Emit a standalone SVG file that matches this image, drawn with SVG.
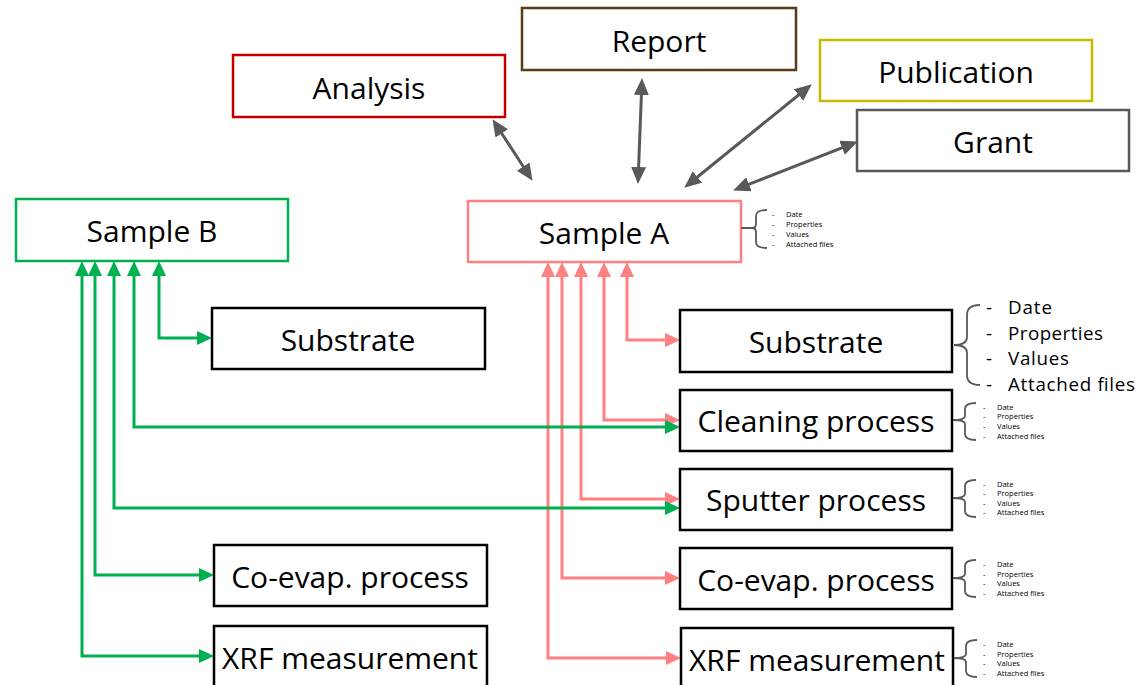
<svg xmlns="http://www.w3.org/2000/svg" width="1140" height="685" viewBox="0 0 1140 685">
<style>
.box{fill:#fff;stroke-width:2.5}
.lbl{font-family:"Open Sans","Noto Sans",sans-serif;font-size:30px;fill:#000;text-anchor:middle}
.gray{fill:none;stroke:#595959;stroke-width:3}
.pink{fill:none;stroke:#ff8080;stroke-width:3}
.green{fill:none;stroke:#00b050;stroke-width:3}
.brace{fill:none;stroke:#595959;stroke-width:1.8}
.sm{font-family:"Open Sans","Noto Sans",sans-serif;font-size:7.5px;fill:#000}
.lg{font-family:"Open Sans","Noto Sans",sans-serif;font-size:18.8px;fill:#000}
</style>
<defs>
<marker id="ag" markerUnits="userSpaceOnUse" markerWidth="17" markerHeight="16" refX="8" refY="7.5" orient="auto-start-reverse"><path d="M0,0 L17,7.5 L0,15 z" fill="#595959"/></marker>
<marker id="ap" markerUnits="userSpaceOnUse" markerWidth="16" markerHeight="15" refX="7" refY="7" orient="auto-start-reverse"><path d="M0,0 L15,7 L0,14 z" fill="#ff8080"/></marker>
<marker id="an" markerUnits="userSpaceOnUse" markerWidth="16" markerHeight="15" refX="7" refY="7" orient="auto-start-reverse"><path d="M0,0 L15,7 L0,14 z" fill="#00b050"/></marker>
</defs>

<g id="connectors">
<path class="gray" d="M497.4,126.7 L527.6,173.3" marker-start="url(#ag)" marker-end="url(#ag)"/>
<path class="gray" d="M641.7,87 L638.3,175" marker-start="url(#ag)" marker-end="url(#ag)"/>
<path class="gray" d="M804.8,90 L691.2,182" marker-start="url(#ag)" marker-end="url(#ag)"/>
<path class="gray" d="M849.5,144.9 L741.5,187.1" marker-start="url(#ag)" marker-end="url(#ag)"/>

<path class="pink" d="M627,270 V340 H672" marker-start="url(#ap)" marker-end="url(#ap)"/>
<path class="pink" d="M604,270 V420 H672" marker-start="url(#ap)" marker-end="url(#ap)"/>
<path class="pink" d="M581,270 V499 H672" marker-start="url(#ap)" marker-end="url(#ap)"/>
<path class="pink" d="M562,270 V578 H672" marker-start="url(#ap)" marker-end="url(#ap)"/>
<path class="pink" d="M548,270 V658 H673" marker-start="url(#ap)" marker-end="url(#ap)"/>

<path class="green" d="M159,269 V338 H204" marker-start="url(#an)" marker-end="url(#an)"/>
<path class="green" d="M134,269 V427 H672" marker-start="url(#an)" marker-end="url(#an)"/>
<path class="green" d="M114,269 V508 H672" marker-start="url(#an)" marker-end="url(#an)"/>
<path class="green" d="M95,269 V575 H206" marker-start="url(#an)" marker-end="url(#an)"/>
<path class="green" d="M82,269 V656 H206" marker-start="url(#an)" marker-end="url(#an)"/>
</g>

<g id="report"><rect class="box" x="522" y="8" width="274" height="62" stroke="#5a3a14"/><text class="lbl" x="659" y="51.5">Report</text></g>
<g id="analysis"><rect class="box" x="233" y="55" width="272" height="62" stroke="#c00000"/><text class="lbl" x="369" y="98.5">Analysis</text></g>
<g id="publication"><rect class="box" x="820" y="40" width="272" height="61" stroke="#c8b900"/><text class="lbl" x="956" y="82.5">Publication</text></g>
<g id="grant"><rect class="box" x="857" y="110" width="272" height="61" stroke="#595959"/><text class="lbl" x="993" y="152.5">Grant</text></g>

<g id="sampleB"><rect class="box" x="16" y="199" width="272" height="62" stroke="#00b050"/><text class="lbl" x="152" y="241.5">Sample B</text></g>
<g id="sampleA"><rect class="box" x="468" y="201" width="273" height="61" stroke="#ff8080"/><text class="lbl" x="604" y="243.5">Sample A</text>
<path class="brace" d="M741,228 H752 M767,210 Q756,210 756,216 V224 Q756,228 752,228 Q756,228 756,232 V242 Q756,248 767,248"/>
<text class="sm"><tspan x="772" y="217">-</tspan><tspan x="786" y="217">Date</tspan><tspan x="772" y="227">-</tspan><tspan x="786" y="227">Properties</tspan><tspan x="772" y="237">-</tspan><tspan x="786" y="237">Values</tspan><tspan x="772" y="247">-</tspan><tspan x="786" y="247">Attached files</tspan></text>
</g>

<g id="substrateA"><rect class="box" x="680" y="310" width="272" height="62" stroke="#000"/><text class="lbl" x="816" y="352.5">Substrate</text>
<path class="brace" d="M980,305 Q967,305 967,315 V337 Q967,345 954,345 Q967,345 967,353 V375 Q967,385 980,385"/>
<text class="lg" x="986" y="313.5">-</text><text class="lg" x="1008" y="313.5" textLength="44">Date</text>
<text class="lg" x="986" y="339.5">-</text><text class="lg" x="1008" y="339.5" textLength="95">Properties</text>
<text class="lg" x="986" y="364.5">-</text><text class="lg" x="1008" y="364.5" textLength="61">Values</text>
<text class="lg" x="986" y="390.5">-</text><text class="lg" x="1008" y="390.5" textLength="127">Attached files</text>
</g>

<g id="cleaning"><rect class="box" x="680" y="390" width="272" height="61" stroke="#000"/><text class="lbl" x="816" y="431.5">Cleaning process</text>
<path class="brace" d="M976,403 Q965,403 965,409 V416 Q965,420 953,420 Q965,420 965,424 V434 Q965,440 976,440"/>
<text class="sm"><tspan x="983" y="410">-</tspan><tspan x="997" y="410">Date</tspan><tspan x="983" y="419">-</tspan><tspan x="997" y="419">Properties</tspan><tspan x="983" y="429">-</tspan><tspan x="997" y="429">Values</tspan><tspan x="983" y="439">-</tspan><tspan x="997" y="439">Attached files</tspan></text>
</g>

<g id="sputter"><rect class="box" x="680" y="469" width="272" height="61" stroke="#000"/><text class="lbl" x="816" y="510.5">Sputter process</text>
<path class="brace" d="M976,480 Q965,480 965,486 V494 Q965,498 953,498 Q965,498 965,502 V511 Q965,517 976,517"/>
<text class="sm"><tspan x="983" y="487">-</tspan><tspan x="997" y="487">Date</tspan><tspan x="983" y="496">-</tspan><tspan x="997" y="496">Properties</tspan><tspan x="983" y="506">-</tspan><tspan x="997" y="506">Values</tspan><tspan x="983" y="515">-</tspan><tspan x="997" y="515">Attached files</tspan></text>
</g>

<g id="coevapA"><rect class="box" x="680" y="548" width="272" height="61" stroke="#000"/><text class="lbl" x="816" y="590.5">Co-evap. process</text>
<path class="brace" d="M976,560 Q965,560 965,566 V574 Q965,578 953,578 Q965,578 965,582 V591 Q965,597 976,597"/>
<text class="sm"><tspan x="983" y="567">-</tspan><tspan x="997" y="567">Date</tspan><tspan x="983" y="577">-</tspan><tspan x="997" y="577">Properties</tspan><tspan x="983" y="586">-</tspan><tspan x="997" y="586">Values</tspan><tspan x="983" y="596">-</tspan><tspan x="997" y="596">Attached files</tspan></text>
</g>

<g id="xrfA"><rect class="box" x="681" y="628" width="272" height="62" stroke="#000"/><text class="lbl" x="817" y="670.5">XRF measurement</text>
<path class="brace" d="M977,640 Q966,640 966,646 V654 Q966,658 954,658 Q966,658 966,662 V671 Q966,677 977,677"/>
<text class="sm"><tspan x="983" y="647">-</tspan><tspan x="997" y="647">Date</tspan><tspan x="983" y="657">-</tspan><tspan x="997" y="657">Properties</tspan><tspan x="983" y="666">-</tspan><tspan x="997" y="666">Values</tspan><tspan x="983" y="676">-</tspan><tspan x="997" y="676">Attached files</tspan></text>
</g>

<g id="substrateB"><rect class="box" x="212" y="308" width="273" height="61" stroke="#000"/><text class="lbl" x="348" y="350.5">Substrate</text></g>
<g id="coevapB"><rect class="box" x="214" y="545" width="273" height="61" stroke="#000"/><text class="lbl" x="350" y="587.5">Co-evap. process</text></g>
<g id="xrfB"><rect class="box" x="214" y="626" width="273" height="62" stroke="#000"/><text class="lbl" x="350" y="668.5">XRF measurement</text></g>
</svg>
